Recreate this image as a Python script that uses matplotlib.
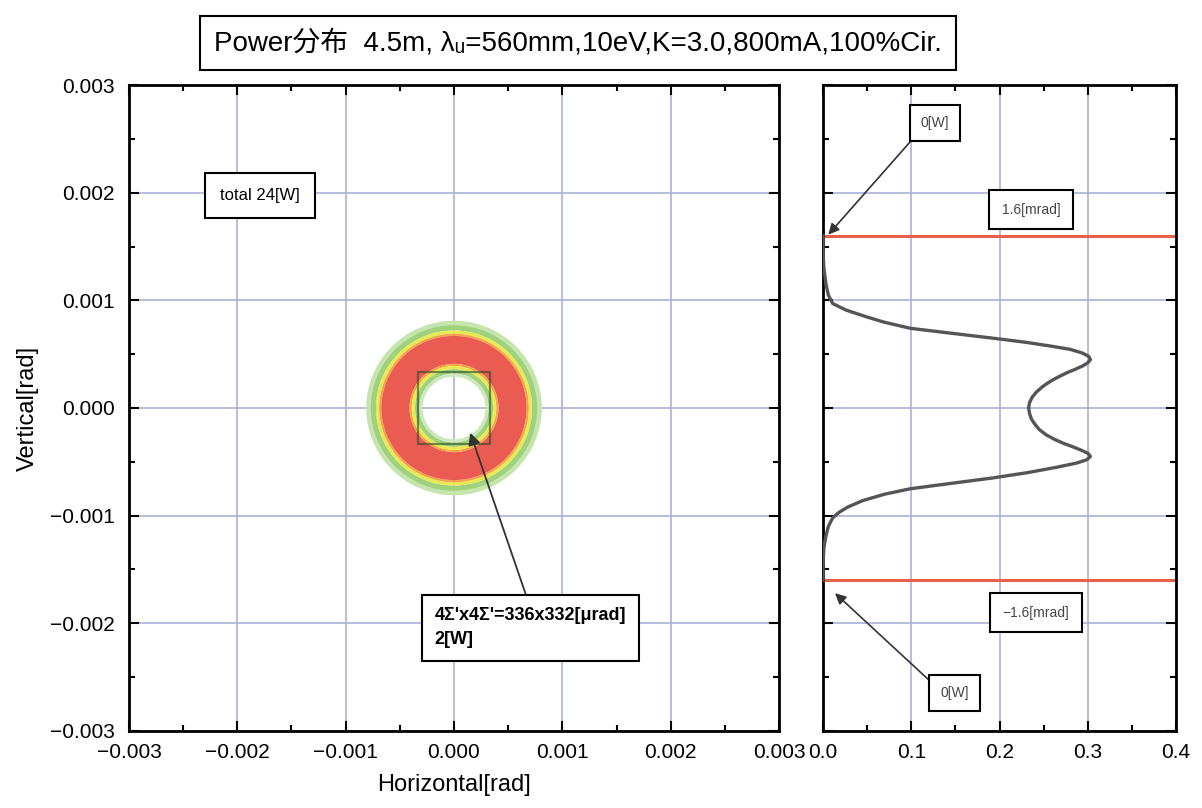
import numpy as np
import matplotlib
matplotlib.use("Agg")
import matplotlib.pyplot as plt
from matplotlib.patches import Wedge, Rectangle
from matplotlib.ticker import MultipleLocator, FuncFormatter

plt.rcParams['font.family'] = ['Liberation Sans', 'Noto Sans CJK JP', 'DejaVu Sans']

# ring bands of the 2D power map: (inner radius, outer radius) [rad]
band_inner = [0.00077, 0.00072, 0.00069, 0.00067, 0.00041, 0.00039, 0.00036, 0.00032, 0.00029]
band_outer = [0.00081, 0.00077, 0.00072, 0.00069, 0.00067, 0.00041, 0.00039, 0.00036, 0.00032]
band_colors = ['#c6e4ae', '#9fd27c', '#e9ea50', '#f3a648', '#ea5c52',
               '#f3a648', '#e9ea50', '#9fd27c', '#cfe8bb']
# 4Σ' x 4Σ' box half sizes [rad]
box_half_h = 0.000336
box_half_v = 0.000332

# vertical profile (projection onto vertical axis), vert in mrad, power in W
vert = [-1.60, -1.45, -1.30, -1.20, -1.10, -1.02, -0.97, -0.92, -0.86, -0.80,
        -0.75, -0.70, -0.65, -0.60, -0.55, -0.51, -0.48, -0.45, -0.42, -0.39, -0.36, -0.33,
        -0.29, -0.25, -0.20, -0.15, -0.10, -0.05, 0.00, 0.05, 0.10, 0.15, 0.20, 0.25, 0.29,
        0.33, 0.36, 0.39, 0.42, 0.45, 0.48, 0.51, 0.545, 0.575, 0.61,
        0.64, 0.69, 0.74, 0.80, 0.85, 0.91, 0.97, 1.05, 1.15, 1.30, 1.45, 1.60]
power = [0.000, 0.000, 0.001, 0.003, 0.006, 0.011, 0.018, 0.028, 0.045, 0.070,
         0.099, 0.145, 0.192, 0.232, 0.265, 0.288, 0.299, 0.303, 0.300, 0.292, 0.283, 0.273,
         0.262, 0.253, 0.245, 0.240, 0.236, 0.234, 0.233, 0.234, 0.237, 0.242, 0.249, 0.258, 0.267,
         0.277, 0.286, 0.294, 0.300, 0.303, 0.301, 0.294, 0.280, 0.258, 0.230,
         0.201, 0.150, 0.099, 0.068, 0.048, 0.026, 0.011, 0.006, 0.0034, 0.001, 0.000, 0.000]
limit_mrad = [1.6, -1.6]

fig = plt.figure(figsize=(12.02, 8.08), dpi=100)
ax = fig.add_axes([0.1073, 0.0953, 0.5408, 0.7995])
ax2 = fig.add_axes([0.6847, 0.0953, 0.2937, 0.7995])

def fmt(nd):
    return FuncFormatter(lambda v, p: ('%.*f' % (nd, v)).replace('-', '\u2212') if abs(v) > 1e-12 else '%.*f' % (nd, 0))

grid_col = '#aab3d8'
for a in (ax, ax2):
    a.grid(True, color=grid_col, lw=1.2, zorder=0)
    a.set_axisbelow(True)
    a.tick_params(which='both', direction='in', top=True, right=True, labelsize=15, width=1.5)
    a.tick_params(which='major', length=7)
    a.tick_params(which='minor', length=4)
    a.tick_params(axis='x', pad=9)
    a.tick_params(axis='y', pad=10)
    for s in a.spines.values():
        s.set_linewidth(2)

# left: 2D map
for r0, r1, c in zip(band_inner, band_outer, band_colors):
    ax.add_patch(Wedge((0, 0), r1, 0, 360, width=r1 - r0, color=c, lw=0, zorder=2))
ax.add_patch(Rectangle((-box_half_h, -box_half_v), 2 * box_half_h, 2 * box_half_v,
                       fill=False, ec='#244a24', lw=1.6, alpha=0.6, zorder=3))
ax.set_xlim(-0.003, 0.003)
ax.set_ylim(-0.003, 0.003)
ax.xaxis.set_major_locator(MultipleLocator(0.001))
ax.yaxis.set_major_locator(MultipleLocator(0.001))
ax.xaxis.set_minor_locator(MultipleLocator(0.0005))
ax.yaxis.set_minor_locator(MultipleLocator(0.0005))
ax.xaxis.set_major_formatter(fmt(3))
ax.yaxis.set_major_formatter(fmt(3))
ax.set_xlabel('Horizontal[rad]', fontsize=17, labelpad=8)
ax.set_ylabel('Vertical[rad]', fontsize=17, labelpad=8)

ax.text(-0.00179, 0.00197, 'total 24[W]', fontsize=12, ha='center', va='center',
        bbox=dict(boxstyle='square,pad=0.9', fc='white', ec='black', lw=1.5), zorder=5)
ax.annotate("4Σ'x4Σ'=336x332[μrad]\n2[W]", xy=(0.00015, -0.00023), xytext=(-0.00018, -0.00204),
            fontsize=13, fontweight='bold', ha='left', va='center', linespacing=1.5,
            bbox=dict(boxstyle='square,pad=0.7', fc='white', ec='black', lw=1.5),
            arrowprops=dict(arrowstyle='-|>', color='#333333', lw=1.3, mutation_scale=18,
                            shrinkA=0, shrinkB=0, relpos=(0.5, 1.0)), zorder=5)

# right: vertical profile
ax2.plot(power, np.array(vert) * 1e-3, color='#555555', lw=2.4, zorder=3)
for v in limit_mrad:
    ax2.axhline(v * 1e-3, color='#e8604c', lw=2.2, zorder=2)
ax2.set_xlim(0, 0.4)
ax2.set_ylim(-0.003, 0.003)
ax2.xaxis.set_major_locator(MultipleLocator(0.1))
ax2.xaxis.set_minor_locator(MultipleLocator(0.05))
ax2.yaxis.set_major_locator(MultipleLocator(0.001))
ax2.yaxis.set_minor_locator(MultipleLocator(0.0005))
ax2.xaxis.set_major_formatter(fmt(1))
ax2.tick_params(labelleft=False)

sbox = dict(boxstyle='square,pad=0.8', fc='white', ec='black', lw=1.5)
arr = dict(arrowstyle='-|>', color='#333333', lw=1.2, mutation_scale=16, shrinkA=0, shrinkB=0)
ax2.annotate('0[W]', xy=(0.006, 0.00161), xytext=(0.127, 0.00265), fontsize=10, color='#444444',
             ha='center', va='center', bbox=sbox, arrowprops=dict(arr, relpos=(0.0, 0.0)), zorder=5)
ax2.annotate('0[W]', xy=(0.0136, -0.00172), xytext=(0.149, -0.00265), fontsize=10, color='#444444',
             ha='center', va='center', bbox=sbox, arrowprops=dict(arr, relpos=(0.0, 0.7)), zorder=5)
ax2.text(0.236, 0.00184, '1.6[mrad]', fontsize=10, color='#444444', ha='center', va='center',
         bbox=dict(boxstyle='square,pad=0.9', fc='white', ec='black', lw=1.5), zorder=5)
ax2.text(0.241, -0.0019, '\u22121.6[mrad]', fontsize=10, color='#444444', ha='center', va='center',
         bbox=dict(boxstyle='square,pad=0.9', fc='white', ec='black', lw=1.5), zorder=5)

fig.text(0.481, 0.947, 'Power分布  4.5m, λ\u1d64=560mm,10eV,K=3.0,800mA,100%Cir.',
         fontsize=20, ha='center', va='center',
         bbox=dict(boxstyle='square,pad=0.5', fc='white', ec='black', lw=1.5))

fig.savefig('out.png', dpi=100)
